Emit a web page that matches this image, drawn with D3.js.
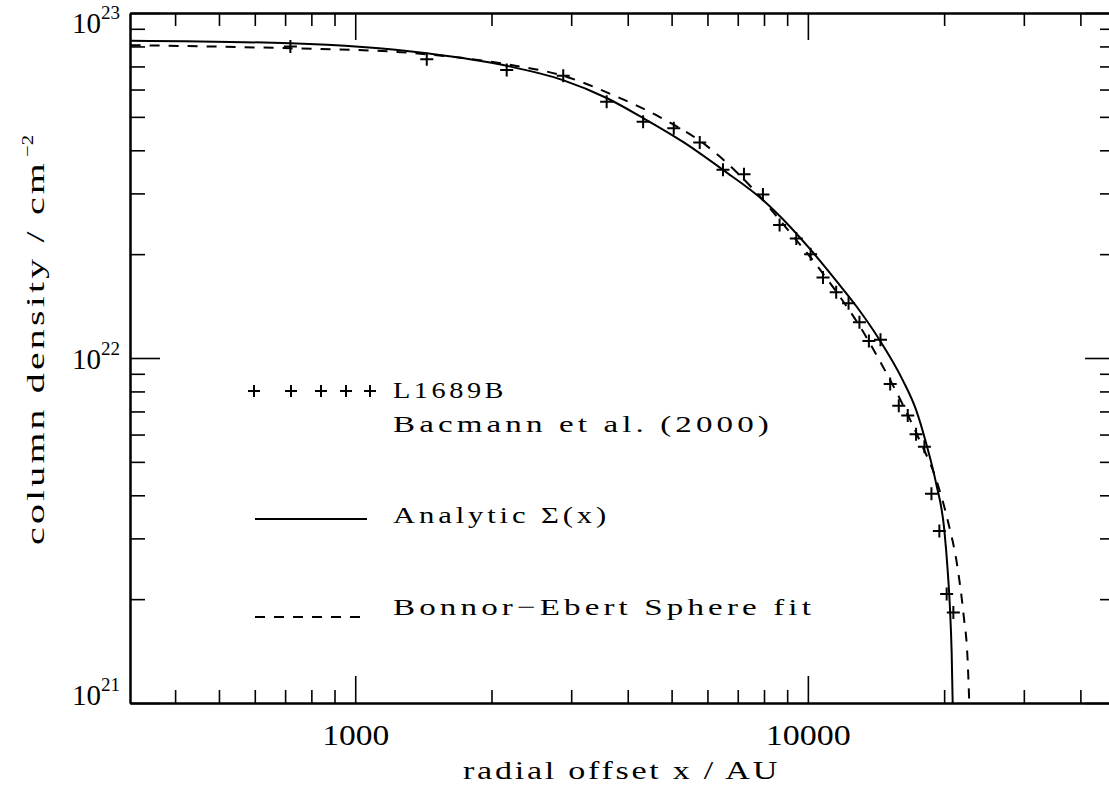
<!DOCTYPE html>
<html>
<head>
<meta charset="utf-8">
<script src="https://cdn.jsdelivr.net/npm/d3@7"></script>
<style>
body { margin: 0; background: #fff; }
text { font-family: "Liberation Serif", "DejaVu Serif", serif; fill: #000; }
</style>
</head>
<body>
<svg id="chart"></svg>
<script>
// L1689B observed column density (crosses)
var obsX = [719, 1439, 2161, 2881, 3593, 4325, 5055, 5769, 6493, 7225, 7956, 8660, 9428, 10140, 10800,
  11550, 12300, 13000, 13640, 14470, 15200, 15880, 16620, 17340, 18090, 18750, 19520, 20260, 20960];
var obsY = [7.99e22, 7.34e22, 6.84e22, 6.58e22, 5.53e22, 4.84e22, 4.63e22, 4.21e22, 3.51e22, 3.41e22, 2.98e22,
  2.43e22, 2.22e22, 2.00e22, 1.71e22, 1.55e22, 1.44e22, 1.27e22, 1.12e22, 1.13e22, 8.41e21, 7.27e21,
  6.81e21, 6.01e21, 5.53e21, 4.04e21, 3.15e21, 2.07e21, 1.83e21];

// analytic Sigma(x), solid line
var anaX = [319, 719, 1439, 2161, 2877, 3593, 4325, 5300, 6493, 7956, 9112, 10140, 11570, 12810, 14390,
  16200, 17340, 18250, 19200, 20020, 20360, 20610, 20780, 20890];
var anaY = [8.31e22, 8.17e22, 7.64e22, 7.03e22, 6.39e22, 5.67e22, 4.96e22, 4.23e22, 3.51e22, 2.87e22, 2.41e22,
  2.06e22, 1.67e22, 1.41e22, 1.13e22, 8.63e21, 7.07e21, 5.66e21, 4.33e21, 3.17e21, 2.43e21, 1.86e21,
  1.40e21, 1.0e21];

// Bonnor-Ebert sphere fit, dashed line
var beX = [319, 719, 1238, 2161, 2877, 3784, 4708, 5976, 7068, 7704, 9112, 10450, 11750, 13000, 14540,
  16180, 17640, 19220, 20360, 21420, 22080, 22540, 22730];
var beY = [8.07e22, 7.90e22, 7.71e22, 7.10e22, 6.58e22, 5.72e22, 4.99e22, 4.12e22, 3.39e22, 3.01e22, 2.32e22,
  1.86e22, 1.51e22, 1.24e22, 9.61e21, 7.36e21, 5.79e21, 4.43e21, 3.39e21, 2.46e21, 1.80e21, 1.33e21, 1.0e21];

var xMajor = [1000, 10000];
var xMinor = [400, 500, 600, 700, 800, 900, 2000, 3000, 4000, 5000, 6000, 7000, 8000, 9000, 20000, 30000, 40000];
var yMajor = [1e21, 1e22, 1e23];
var yMinor = [2e21, 3e21, 4e21, 5e21, 6e21, 7e21, 8e21, 9e21, 2e22, 3e22, 4e22, 5e22, 6e22, 7e22, 8e22, 9e22];

var width = 1109;
var height = 790;
var plotLeft = 130;
var plotRight = 1115;
var plotTop = 13;
var plotBottom = 703;

var x = d3.scaleLog().domain([318, 47700]).range([plotLeft, plotRight]);
var y = d3.scaleLog().domain([1e21, 1e23]).range([plotBottom, plotTop]);

var svg = d3.select('#chart')
  .attr("width", width)
  .attr("height", height);

svg.append("defs").append("clipPath")
  .attr("id", "clip")
  .append("rect")
  .attr("x", plotLeft)
  .attr("y", plotTop)
  .attr("width", plotRight - plotLeft)
  .attr("height", plotBottom - plotTop);

function styleAxis(g) {
  g.attr("font-family", null).attr("font-size", null);
  g.selectAll(".tick line").attr("stroke", "black").attr("stroke-width", 1.6);
  g.select(".domain").attr("stroke", "black").attr("stroke-width", 2);
}

// bottom axis
svg.append("g")
  .attr("transform", "translate(0," + plotBottom + ")")
  .call(d3.axisBottom(x).tickValues(xMinor).tickSize(-13).tickSizeOuter(0).tickFormat(""))
  .call(styleAxis);
var bottomMajor = svg.append("g")
  .attr("transform", "translate(0," + plotBottom + ")")
  .call(d3.axisBottom(x).tickValues(xMajor).tickSize(-27).tickSizeOuter(0).tickFormat(d3.format("d")))
  .call(styleAxis);
bottomMajor.selectAll(".tick text")
  .attr("y", 42)
  .attr("dy", 0)
  .attr("font-size", 30)
  .attr("textLength", function(d) { return d >= 10000 ? 85 : 67; })
  .attr("lengthAdjust", "spacingAndGlyphs");

// top axis
svg.append("g")
  .attr("transform", "translate(0," + plotTop + ")")
  .call(d3.axisTop(x).tickValues(xMinor).tickSize(-13).tickSizeOuter(0).tickFormat(""))
  .call(styleAxis);
svg.append("g")
  .attr("transform", "translate(0," + plotTop + ")")
  .call(d3.axisTop(x).tickValues(xMajor).tickSize(-27).tickSizeOuter(0).tickFormat(""))
  .call(styleAxis);

// left axis
svg.append("g")
  .attr("transform", "translate(" + plotLeft + ",0)")
  .call(d3.axisLeft(y).tickValues(yMinor).tickSize(-15).tickSizeOuter(0).tickFormat(""))
  .call(styleAxis);
var leftMajor = svg.append("g")
  .attr("transform", "translate(" + plotLeft + ",0)")
  .call(d3.axisLeft(y).tickValues(yMajor).tickSize(-30).tickSizeOuter(0).tickPadding(10).tickFormat(""))
  .call(styleAxis);
leftMajor.selectAll(".tick text").each(function(d) {
  var t = d3.select(this);
  var exp = Math.round(Math.log10(d));
  t.attr("dy", exp === 23 ? 19 : exp === 22 ? 10 : 1).attr("font-size", 29);
  t.append("tspan").text("10");
  t.append("tspan").attr("dy", -14).attr("font-size", 19).text(exp);
});

// right axis
svg.append("g")
  .attr("transform", "translate(" + plotRight + ",0)")
  .call(d3.axisRight(y).tickValues(yMinor).tickSize(-15).tickSizeOuter(0).tickFormat(""))
  .call(styleAxis);
svg.append("g")
  .attr("transform", "translate(" + plotRight + ",0)")
  .call(d3.axisRight(y).tickValues(yMajor).tickSize(-30).tickSizeOuter(0).tickFormat(""))
  .call(styleAxis);

// axis titles
svg.append("text")
  .attr("x", 463)
  .attr("y", 779)
  .attr("font-size", 25)
  .attr("letter-spacing", 2)
  .attr("textLength", 317)
  .attr("lengthAdjust", "spacingAndGlyphs")
  .text("radial offset x / AU");

var yTitle = svg.append("g")
  .attr("transform", "translate(44,0) rotate(-90)");
yTitle.append("text")
  .attr("x", -545)
  .attr("font-size", 25)
  .attr("letter-spacing", 2)
  .attr("textLength", 385)
  .attr("lengthAdjust", "spacingAndGlyphs")
  .text("column density / cm");
yTitle.append("text")
  .attr("x", -157)
  .attr("y", -11)
  .attr("font-size", 17)
  .attr("textLength", 22)
  .attr("lengthAdjust", "spacingAndGlyphs")
  .text("\u22122");

// curves
var line = d3.line()
  .x(function(d) { return x(d[0]); })
  .y(function(d) { return y(d[1]); })
  .curve(d3.curveMonotoneX);

var plot = svg.append("g").attr("clip-path", "url(#clip)");

plot.append("path")
  .datum(d3.zip(anaX, anaY))
  .attr("d", line)
  .attr("fill", "none")
  .attr("stroke", "black")
  .attr("stroke-width", 2);

plot.append("path")
  .datum(d3.zip(beX, beY))
  .attr("d", line)
  .attr("fill", "none")
  .attr("stroke", "black")
  .attr("stroke-width", 2)
  .attr("stroke-dasharray", "10,9");

var plus = "M-6.5,0H6.5M0,-6.5V6.5";
plot.selectAll(".obs")
  .data(d3.zip(obsX, obsY))
  .enter().append("path")
  .attr("class", "obs")
  .attr("transform", function(d) { return "translate(" + x(d[0]) + "," + y(d[1]) + ")"; })
  .attr("d", plus)
  .attr("stroke", "black")
  .attr("stroke-width", 2);

// legend
var legX = 254;
var legLineEnd = 367;
var legTextX = 393;
var legPlusOffsets = [0, 37, 67, 92, 116];

svg.selectAll(".legplus")
  .data(legPlusOffsets)
  .enter().append("path")
  .attr("class", "legplus")
  .attr("transform", function(d) { return "translate(" + (legX + d) + ",391)"; })
  .attr("d", "M-6,0H6M0,-6V6")
  .attr("stroke", "black")
  .attr("stroke-width", 2);

svg.append("line")
  .attr("x1", legX + 1).attr("x2", legLineEnd)
  .attr("y1", 519).attr("y2", 519)
  .attr("stroke", "black").attr("stroke-width", 1.8);

svg.append("line")
  .attr("x1", legX + 1).attr("x2", legLineEnd)
  .attr("y1", 617).attr("y2", 617)
  .attr("stroke", "black").attr("stroke-width", 1.8)
  .attr("stroke-dasharray", "10,9");

var legendText = [
  ["L1689B", 398, 114],
  ["Bacmann et al. (2000)", 432, 380],
  ["Analytic \u03A3(x)", 523, 217],
  ["Bonnor\u2212Ebert Sphere fit", 615, 422]
];
svg.selectAll(".legtext")
  .data(legendText)
  .enter().append("text")
  .attr("class", "legtext")
  .attr("x", legTextX)
  .attr("y", function(d) { return d[1]; })
  .attr("font-size", 24)
  .attr("letter-spacing", 3)
  .attr("textLength", function(d) { return d[2]; })
  .attr("lengthAdjust", "spacingAndGlyphs")
  .text(function(d) { return d[0]; });
</script>
</body>
</html>
